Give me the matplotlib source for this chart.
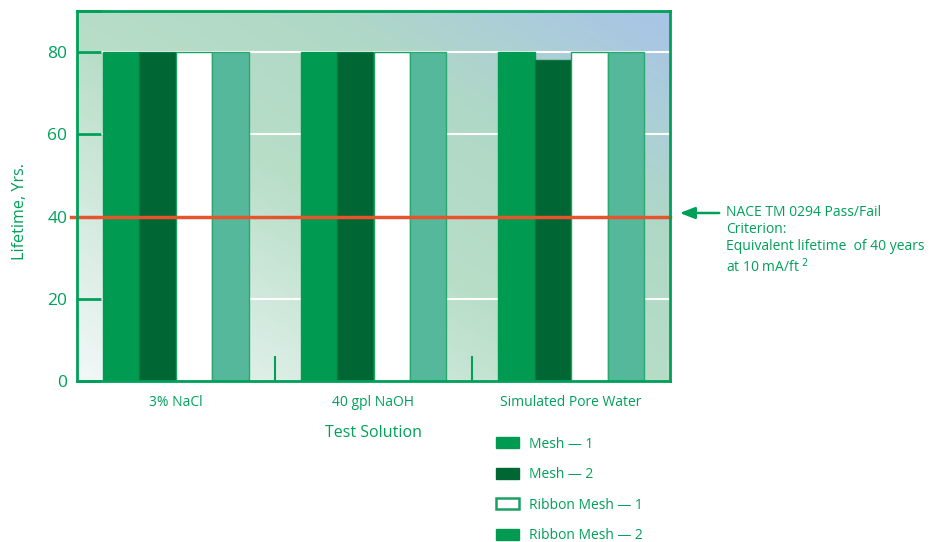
import numpy as np
import matplotlib
matplotlib.use("Agg")
import matplotlib.pyplot as plt
from matplotlib.colors import LinearSegmentedColormap
from matplotlib.patches import Patch

plt.rcParams['font.family'] = ['Open Sans', 'DejaVu Sans']

# data
solutions = ["3% NaCl", "40 gpl NaOH", "Simulated Pore Water"]
series = ["Mesh \u2014 1", "Mesh \u2014 2", "Ribbon Mesh \u2014 1", "Ribbon Mesh \u2014 2"]
mesh_1 = [80, 80, 80]
mesh_2 = [80, 80, 78]
ribbon_1 = [80, 80, 80]
ribbon_2 = [80, 80, 80]
criterion = 40
y_ticks = [0, 20, 40, 60, 80]

green_txt = "#00a059"
face_colors = ["#009b50", "#006633", "#ffffff", "#56b89b"]
edge_colors = ["#009b50", "#0b7a42", "#1aa062", "#2aa872"]

fig = plt.figure(figsize=(9.43, 5.42), dpi=100)
ax = fig.add_axes([77 / 943, 1 - 381 / 542, 593 / 943, 370 / 542])

# diagonal gradient background
n = 200
xx, yy = np.meshgrid(np.linspace(0, 1, n), np.linspace(0, 1, n))
t = (xx + yy) / 2
bg = LinearSegmentedColormap.from_list(
    "bg", [(0, "#f2f8f8"), (0.45, "#b8dec8"), (0.7, "#b0d8c6"), (1, "#a8c4e8")])
ax.imshow(bg(t), extent=[0, 1, 0, 1], origin="lower", transform=ax.transAxes,
          aspect="auto", zorder=0)

# white grid
for v in y_ticks[1:]:
    ax.axhline(v, color="white", lw=1.5, zorder=1)

x = np.arange(len(solutions))
w = 0.184
all_vals = [mesh_1, mesh_2, ribbon_1, ribbon_2]
for i, vals in enumerate(all_vals):
    ax.bar(x + (i - 1.5) * w, vals, w, color=face_colors[i],
           edgecolor=edge_colors[i], linewidth=1, zorder=2)

# pass/fail line
ax.plot([-0.53, 2.5], [criterion, criterion], color="#e6532f", lw=2.5,
        zorder=3, clip_on=False)

ax.set_xlim(-0.5, 2.5)
ax.set_ylim(0, 90)

ax.set_yticks(y_ticks + [90])
ax.set_yticklabels([str(v) for v in y_ticks] + [""])
ax.tick_params(axis="y", direction="in", length=17, width=2, color="#00a059",
               labelsize=12.5, labelcolor=green_txt, pad=7)
ax.set_xticks(x)
ax.set_xticklabels(solutions)
ax.tick_params(axis="x", length=0, labelsize=10, labelcolor=green_txt, pad=10)
ax.set_xticks([0.5, 1.5], minor=True)
ax.tick_params(axis="x", which="minor", direction="in", length=18, width=1.5,
               color="#00a059")

for s in ax.spines.values():
    s.set_color("#00a059")
    s.set_linewidth(2)
    s.set_zorder(4)

ax.set_ylabel("Lifetime, Yrs.", color=green_txt, fontsize=11.6)
ax.yaxis.set_label_coords(-0.082, 0.457)
ax.set_xlabel("Test Solution", color=green_txt, fontsize=11.5, labelpad=11)

# annotation for the criterion
ax.annotate("", xy=(677 / 943, 1 - 213 / 542), xytext=(722 / 943, 1 - 213 / 542),
            xycoords="figure fraction", textcoords="figure fraction",
            arrowprops=dict(arrowstyle="-|>,head_length=0.9,head_width=0.35",
                            color="#00a059", lw=1.8))
fig.text(726 / 943, 1 - 205 / 542,
         "NACE TM 0294 Pass/Fail\nCriterion:\nEquivalent lifetime  of 40 years\nat 10 mA/ft $^2$",
         color=green_txt, fontsize=10, va="top", ha="left", linespacing=1.2)

handles = [Patch(facecolor=face_colors[i], edgecolor=face_colors[i]) for i in range(4)]
handles[2] = Patch(facecolor="white", edgecolor="#1aa062", linewidth=1.8)
handles[3] = Patch(facecolor="#009b50", edgecolor="#009b50")
leg = fig.legend(handles, series, loc="upper left",
                 bbox_to_anchor=(484 / 943, 1 - 424 / 542), frameon=False,
                 fontsize=10, labelspacing=1.12, handlelength=1.65,
                 handleheight=0.8, handletextpad=0.72)
for txt in leg.get_texts():
    txt.set_color(green_txt)

fig.savefig("out.png", dpi=100)
